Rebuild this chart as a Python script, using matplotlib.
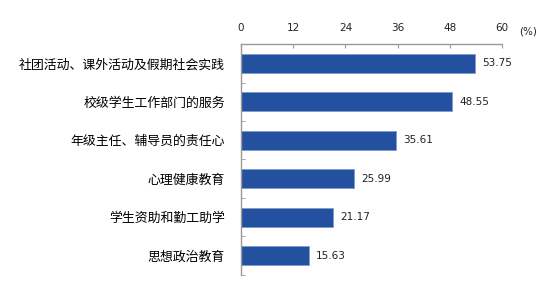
import numpy as np
import matplotlib
matplotlib.use("Agg")
import matplotlib.pyplot as plt

plt.rcParams['font.family'] = ['Noto Sans CJK SC', 'DejaVu Sans']

categories = ["社团活动、课外活动及假期社会实践", "校级学生工作部门的服务",
              "年级主任、辅导员的责任心", "心理健康教育", "学生资助和勤工助学", "思想政治教育"]
values = [53.75, 48.55, 35.61, 25.99, 21.17, 15.63]
xticks = [0, 12, 24, 36, 48, 60]

fig = plt.figure(figsize=(5.47, 2.84), dpi=100)
ax = fig.add_axes([0.4406, 0.032, 0.4771, 0.813])

y = np.arange(len(categories))
ax.barh(y, values, height=0.5, color='#2351A0', edgecolor='#7f9bd0', linewidth=0.6)
for yi, v in zip(y, values):
    ax.text(v + 1.6, yi, f"{v:.2f}", va='center', ha='left', fontsize=7.5,
            family='DejaVu Sans', color='#222222')

ax.set_xlim(0, 60)
ax.set_ylim(len(categories) - 0.5, -0.5)
ax.set_xticks(xticks)
ax.xaxis.tick_top()
ax.tick_params(axis='x', direction='in', length=3, color='#999999', pad=8,
               labelsize=7.5, labelcolor='#222222')
ax.set_yticks(y)
ax.set_yticklabels(categories, fontsize=9.3)
ax.tick_params(axis='y', length=0, pad=11.5)
ax.set_yticks(np.arange(len(categories)) + 0.5, minor=True)
ax.tick_params(axis='y', which='minor', direction='in', length=3, color='#999999')
for lab in ax.get_xticklabels():
    lab.set_family('DejaVu Sans')

for s in ['right', 'bottom']:
    ax.spines[s].set_visible(False)
for s in ['top', 'left']:
    ax.spines[s].set_color('#999999')
    ax.spines[s].set_linewidth(1.0)

fig.text(528 / 547, 1 - 31 / 284, "(%)", ha='center', va='center', fontsize=7.5,
         family='DejaVu Sans', color='#222222')

fig.savefig("out.png", dpi=100)
